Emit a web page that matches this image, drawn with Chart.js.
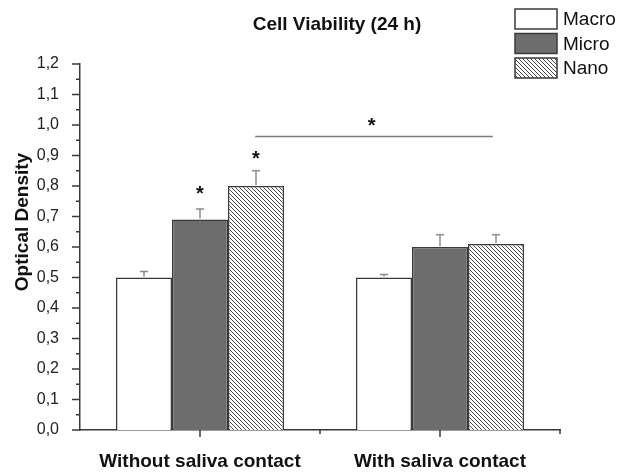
<!DOCTYPE html>
<html>
<head>
<meta charset="utf-8">
<script src="https://cdn.jsdelivr.net/npm/chart.js@4.4.1/dist/chart.umd.min.js"></script>
<style>
  html, body { margin: 0; padding: 0; background: #fff; }
  canvas { display: block; }
</style>
</head>
<body>
<canvas id="chart" width="618" height="472"></canvas>
<script>
const categories = ["Without saliva contact", "With saliva contact"];
const seriesNames = ["Macro", "Micro", "Nano"];
const macroValues = [0.50, 0.50];
const microValues = [0.69, 0.60];
const nanoValues = [0.80, 0.61];
const macroErrors = [0.02, 0.01];
const microErrors = [0.035, 0.04];
const nanoErrors = [0.05, 0.03];
const yMin = 0, yMax = 1.2, yStep = 0.1;
// stars over single bars: [dataset, category, value]
const barStars = [[1, 0, 0.79], [2, 0, 0.905]];
// bracket between groups, x in category units
const bracket = { from: 0.23, to: 1.22, y: 0.962, starX: 0.715, starY: 1.013 };

const FONT = "'Liberation Sans', Arial, sans-serif";
const EDGE = "#3a3a3a";

function hatch() {
  const s = 4;
  const c = document.createElement("canvas");
  c.width = s; c.height = s;
  const g = c.getContext("2d");
  g.fillStyle = "#fff";
  g.fillRect(0, 0, s, s);
  g.strokeStyle = "#4a4a4a";
  g.lineWidth = 1;
  g.beginPath();
  g.moveTo(-1, -1); g.lineTo(s + 1, s + 1);
  g.moveTo(-1, s - 1); g.lineTo(1, s + 1);
  g.moveTo(s - 1, -1); g.lineTo(s + 1, 1);
  g.stroke();
  return g.createPattern(c, "repeat");
}

function star(ctx, x, y) {
  ctx.font = "bold 20px " + FONT;
  ctx.textAlign = "center";
  ctx.textBaseline = "alphabetic";
  ctx.fillStyle = "#111";
  ctx.fillText("*", x, y + 11);
}

const extras = {
  id: "extras",
  afterDatasetsDraw(chart) {
    const { ctx, scales: { x, y } } = chart;
    ctx.save();

    // error bars (upper only)
    ctx.strokeStyle = "#8c8c8c";
    ctx.lineWidth = 1.5;
    chart.data.datasets.forEach((ds, i) => {
      chart.getDatasetMeta(i).data.forEach((bar, j) => {
        const top = y.getPixelForValue(ds.data[j]);
        const end = y.getPixelForValue(ds.data[j] + ds.errors[j]);
        ctx.beginPath();
        ctx.moveTo(bar.x, top - 1); ctx.lineTo(bar.x, end);
        ctx.moveTo(bar.x - 4, end); ctx.lineTo(bar.x + 4, end);
        ctx.stroke();
      });
    });

    // axis ticks
    ctx.strokeStyle = EDGE;
    ctx.lineWidth = 1.5;
    ctx.beginPath();
    for (let k = 0; k <= Math.round((yMax - yMin) / (yStep / 2)); k++) {
      const py = y.getPixelForValue(yMin + k * yStep / 2);
      const len = k % 2 === 0 ? 8 : 4;
      ctx.moveTo(x.left, py); ctx.lineTo(x.left - len, py);
    }
    categories.forEach((c, i) => {
      let px = x.getPixelForValue(i);
      ctx.moveTo(px, y.bottom); ctx.lineTo(px, y.bottom + 7);
      px = x.getPixelForValue(i + 0.5);
      ctx.moveTo(px, y.bottom); ctx.lineTo(px, y.bottom + 4);
    });
    ctx.stroke();

    // significance marks
    barStars.forEach(([d, c, v]) => {
      star(ctx, chart.getDatasetMeta(d).data[c].x, y.getPixelForValue(v));
    });
    ctx.strokeStyle = "#7a7a7a";
    ctx.lineWidth = 1.5;
    ctx.beginPath();
    const by = y.getPixelForValue(bracket.y);
    ctx.moveTo(x.getPixelForValue(bracket.from), by);
    ctx.lineTo(x.getPixelForValue(bracket.to), by);
    ctx.stroke();
    star(ctx, x.getPixelForValue(bracket.starX), y.getPixelForValue(bracket.starY));

    // title
    ctx.fillStyle = "#111";
    ctx.font = "bold 19px " + FONT;
    ctx.textAlign = "center";
    ctx.textBaseline = "alphabetic";
    ctx.fillText("Cell Viability (24 h)", 337, 30);

    // y axis title
    ctx.save();
    ctx.translate(28, 222);
    ctx.rotate(-Math.PI / 2);
    ctx.fillText("Optical Density", 0, 0);
    ctx.restore();

    // legend
    ctx.font = "19px " + FONT;
    ctx.textAlign = "left";
    ctx.textBaseline = "middle";
    chart.data.datasets.forEach((ds, i) => {
      const top = 9 + i * 24.5;
      ctx.fillStyle = ds.backgroundColor;
      ctx.fillRect(515, top, 42, 20);
      ctx.strokeStyle = EDGE;
      ctx.lineWidth = 1.5;
      ctx.strokeRect(515, top, 42, 20);
      ctx.fillStyle = "#111";
      ctx.fillText(ds.label, 563, top + 11);
    });

    ctx.restore();
  }
};

const fills = ["#ffffff", "#6d6d6d", hatch()];
const values = [macroValues, microValues, nanoValues];
const errors = [macroErrors, microErrors, nanoErrors];

new Chart(document.getElementById("chart"), {
  type: "bar",
  data: {
    labels: categories,
    datasets: seriesNames.map((name, i) => ({
      label: name,
      data: values[i],
      errors: errors[i],
      backgroundColor: fills[i],
      borderColor: EDGE,
      borderWidth: 1.5,
      borderSkipped: "bottom",
      categoryPercentage: 0.7,
      barPercentage: 1.0
    }))
  },
  options: {
    responsive: false,
    devicePixelRatio: 1,
    animation: false,
    layout: { padding: { top: 64, right: 58, left: 0, bottom: 0 } },
    plugins: { legend: { display: false }, title: { display: false }, tooltip: { enabled: false } },
    scales: {
      x: {
        grid: { display: false },
        border: { display: true, color: EDGE, width: 1.5 },
        ticks: { color: "#111", padding: 12, font: { family: FONT, size: 19, weight: "bold" } },
        afterFit(scale) { scale.height = 42; }
      },
      y: {
        min: yMin,
        max: yMax,
        grid: { display: false },
        border: { display: true, color: EDGE, width: 1.5 },
        ticks: {
          stepSize: yStep,
          padding: 13,
          color: "#222",
          font: { family: FONT, size: 16 },
          callback: v => v.toFixed(1).replace(".", ",")
        },
        afterFit(scale) { scale.width = 80; }
      }
    }
  },
  plugins: [extras]
});
</script>
</body>
</html>
